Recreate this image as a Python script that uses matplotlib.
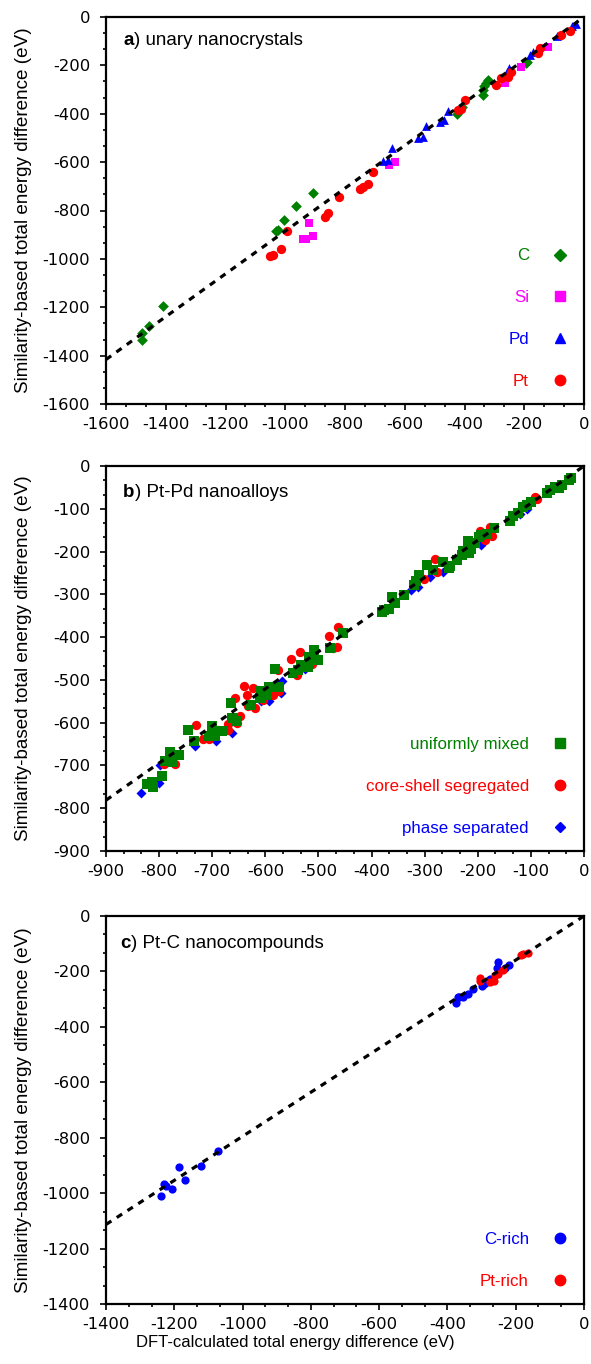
import matplotlib
matplotlib.use('Agg')
import matplotlib.pyplot as plt
from matplotlib.lines import Line2D
from matplotlib.ticker import MultipleLocator, AutoMinorLocator

plt.rcParams['font.family'] = 'DejaVu Sans'
plt.rcParams['axes.unicode_minus'] = False

LABEL_FONT = 'Liberation Sans'

# ---- panel a: unary nanocrystals ----
c_x = [-1480, -1478, -1455, -1409, -1032, -1025, -1005, -965, -907,
       -426, -407, -339, -334, -329, -322, -337, -192, -195]
c_y = [-1335, -1308, -1278, -1194, -883, -880, -839, -781, -726,
       -402, -371, -302, -285, -274, -260, -322, -185, -192]
si_x = [-932, -940, -906, -920, -652, -633, -263, -210, -119]
si_y = [-919, -917, -907, -853, -612, -601, -271, -208, -124]
pd_x = [-672, -657, -642, -554, -540, -528, -482, -469, -454,
        -259, -251, -181, -172, -92, -41, -27]
pd_y = [-595, -591, -542, -500, -495, -451, -433, -426, -389,
        -226, -209, -157, -143, -79, -37, -29]
pt_x = [-1051, -1042, -1014, -993, -866, -857, -819, -749, -741, -724, -707,
        -423, -413, -397, -295, -279, -253, -245, -153, -147, -77, -47]
pt_y = [-987, -984, -959, -883, -826, -812, -743, -711, -701, -690, -642,
        -384, -380, -343, -281, -253, -247, -229, -147, -129, -74, -57]
slope_a = 0.885

# ---- panel b: Pt-Pd nanoalloys ----
mix_x = [-822, -814, -811, -794, -789, -780, -776, -762, -745, -734, -706, -700,
         -695, -681, -665, -663, -656, -627, -608, -610, -594, -598, -574, -581,
         -547, -538, -533, -519, -517, -508, -500, -478, -453, -381, -376, -367,
         -361, -356, -338, -321, -316, -310, -296, -284, -265, -255, -252, -240,
         -230, -227, -218, -216, -212, -205, -197, -193, -183, -169, -139, -133,
         -124, -114, -108, -99, -70, -64, -55, -48, -42, -28, -25]
mix_y = [-743, -738, -750, -725, -689, -669, -691, -676, -617, -644, -631, -607,
         -631, -619, -555, -590, -596, -559, -525, -543, -516, -535, -517, -475,
         -485, -477, -466, -471, -447, -429, -454, -426, -391, -341, -337, -334,
         -307, -321, -302, -278, -268, -255, -232, -243, -224, -238, -234, -220,
         -208, -199, -175, -203, -193, -181, -165, -161, -159, -146, -128, -118,
         -109, -95, -91, -83, -64, -56, -48, -52, -45, -33, -27]
cs_x = [-791, -770, -731, -717, -707, -705, -689, -671, -670, -658, -654, -648,
        -640, -635, -623, -632, -619, -604, -588, -585, -577, -574, -552, -541,
        -535, -513, -481, -473, -466, -464, -301, -281, -277, -196, -186, -177,
        -174, -92, -89]
cs_y = [-697, -697, -605, -638, -639, -627, -617, -602, -616, -543, -600, -584,
        -514, -535, -518, -560, -566, -547, -528, -535, -477, -525, -451, -489,
        -434, -463, -397, -426, -424, -376, -263, -218, -247, -152, -173, -143,
        -163, -73, -78]
ps_x = [-835, -801, -798, -732, -693, -663, -609, -594, -571, -568, -525,
        -326, -312, -290, -265, -221, -193, -121, -108]
ps_y = [-764, -740, -699, -654, -643, -623, -549, -549, -531, -502, -475,
        -290, -284, -259, -247, -193, -185, -112, -101]
slope_b = 0.868

# ---- panel c: Pt-C nanocompounds ----
crich_x = [-1240, -1230, -1225, -1206, -1187, -1168, -1123, -1072,
           -374, -369, -365, -353, -340, -326, -299, -292, -285, -275,
           -251, -254, -232, -219]
crich_y = [-1010, -967, -973, -985, -907, -951, -902, -848,
           -313, -294, -292, -292, -280, -262, -253, -246, -238, -228,
           -166, -186, -186, -175]
ptrich_x = [-306, -304, -275, -265, -260, -251, -236, -185, -178, -163]
ptrich_y = [-222, -235, -238, -234, -214, -210, -196, -142, -138, -132]
slope_c = 0.795

fig = plt.figure(figsize=(5.91, 13.64), dpi=100)
left, width = 106 / 591, 478 / 591
ax_a = fig.add_axes([left, 1 - 404 / 1364, width, 387 / 1364])
ax_b = fig.add_axes([left, 1 - 851 / 1364, width, 385 / 1364])
ax_c = fig.add_axes([left, 1 - 1304 / 1364, width, 388 / 1364])


def style_axes(ax, lim, major):
    ax.set_xlim(lim, 0)
    ax.set_ylim(lim, 0)
    ax.xaxis.set_major_locator(MultipleLocator(major))
    ax.yaxis.set_major_locator(MultipleLocator(major))
    ax.xaxis.set_minor_locator(AutoMinorLocator(3))
    ax.yaxis.set_minor_locator(AutoMinorLocator(3))
    ax.tick_params(which='major', direction='out', length=4, width=1.2,
                   labelsize=11.8)
    ax.tick_params(axis='x', which='major', pad=5.5)
    ax.tick_params(axis='y', which='major', pad=7.5)
    ax.tick_params(which='minor', direction='out', length=2.2, width=1.2)
    for s in ax.spines.values():
        s.set_linewidth(1.6)
    ax.set_ylabel('Similarity-based total energy difference (eV)',
                  family=LABEL_FONT, fontsize=13.6)
    ax.yaxis.set_label_coords(-0.155, 0.5)


def fit_line(ax, lim, slope):
    ax.plot([lim, 0], [slope * lim, 0], color='black', lw=2.3,
            ls=(0, (2, 2)), zorder=5)


def panel_title(ax, letter, text, x, y):
    t = ax.text(x, y, letter, transform=ax.transAxes, fontsize=13.5,
                family=LABEL_FONT, fontweight='bold', va='baseline')
    ax.annotate(text, xy=(1, 0), xycoords=t, fontsize=13.5,
                family=LABEL_FONT, va='bottom', ha='left')


def add_legend(ax, labels, markers, colors, sizes):
    handles = [Line2D([], [], ls='none', marker=m, color=c, markersize=s)
               for m, c, s in zip(markers, colors, sizes)]
    ax.legend(handles, labels, loc='lower right', frameon=False,
              markerfirst=False, labelcolor=colors, handlelength=1.0,
              handletextpad=1.35, labelspacing=1.58,
              prop={'family': LABEL_FONT, 'size': 12.2})


# panel a
style_axes(ax_a, -1600, 200)
ax_a.scatter(c_x, c_y, marker='D', s=30, color='#008000', lw=0)
ax_a.scatter(si_x, si_y, marker='s', s=38, color='#ff00ff', lw=0)
ax_a.scatter(pd_x, pd_y, marker='^', s=40, color='#0000ff', lw=0)
ax_a.scatter(pt_x, pt_y, marker='o', s=45, color='#ff0000', lw=0)
fit_line(ax_a, -1600, slope_a)
panel_title(ax_a, 'a', ') unary nanocrystals', 0.036, 0.928)
add_legend(ax_a, ['C', 'Si', 'Pd', 'Pt'], ['D', 's', '^', 'o'],
           ['#008000', '#ff00ff', '#0000ff', '#ff0000'], [6, 7, 7, 7.5])

# panel b
style_axes(ax_b, -900, 100)
ax_b.scatter(ps_x, ps_y, marker='D', s=26, color='#0000ff', lw=0)
ax_b.scatter(cs_x, cs_y, marker='o', s=45, color='#ff0000', lw=0)
ax_b.scatter(mix_x, mix_y, marker='s', s=45, color='#008000', lw=0)
fit_line(ax_b, -900, slope_b)
panel_title(ax_b, 'b', ') Pt-Pd nanoalloys', 0.036, 0.919)
add_legend(ax_b, ['uniformly mixed', 'core-shell segregated', 'phase separated'],
           ['s', 'o', 'D'], ['#008000', '#ff0000', '#0000ff'], [7, 7.5, 5.5])

# panel c
style_axes(ax_c, -1400, 200)
ax_c.scatter(crich_x, crich_y, marker='o', s=35, color='#0000ff', lw=0)
ax_c.scatter(ptrich_x, ptrich_y, marker='o', s=35, color='#ff0000', lw=0)
fit_line(ax_c, -1400, slope_c)
panel_title(ax_c, 'c', ') Pt-C nanocompounds', 0.03, 0.918)
add_legend(ax_c, ['C-rich', 'Pt-rich'], ['o', 'o'],
           ['#0000ff', '#ff0000'], [7.5, 7.5])

fig.text(0.5, 1 - 1347 / 1364, 'DFT-calculated total energy difference (eV)',
         ha='center', va='baseline', family=LABEL_FONT, fontsize=12)

fig.savefig('out.png', dpi=100)
